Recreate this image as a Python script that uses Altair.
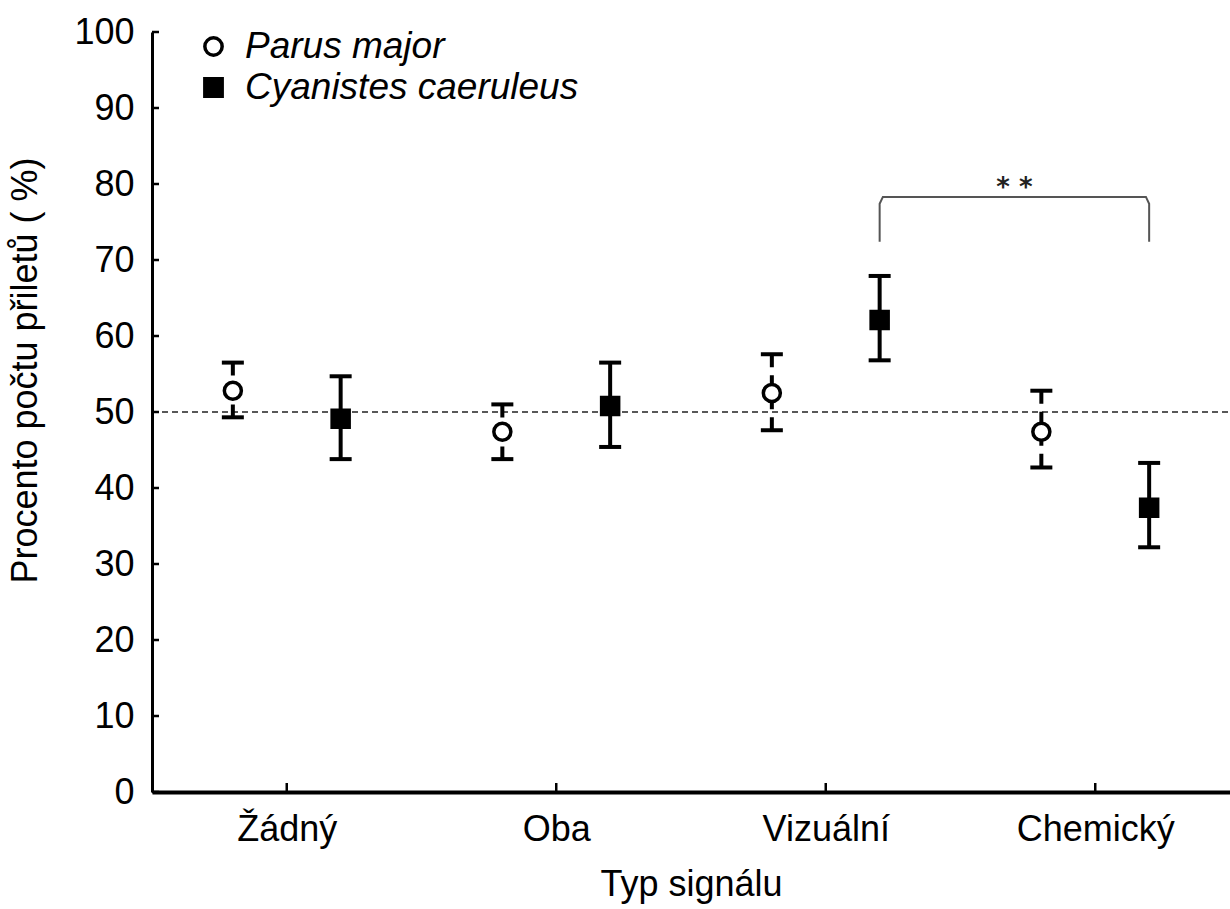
import altair as alt
import pandas as pd

categories = ["Žádný", "Oba", "Vizuální", "Chemický"]
series_names = ["Parus major", "Cyanistes caeruleus"]
series_offset = [-0.2, 0.2]

parus_mean = [52.8, 47.4, 52.5, 47.4]
parus_low = [49.3, 43.8, 47.6, 42.7]
parus_high = [56.5, 51.0, 57.6, 52.8]

cyan_mean = [49.1, 50.8, 62.1, 37.4]
cyan_low = [43.8, 45.4, 56.8, 32.2]
cyan_high = [54.7, 56.5, 67.9, 43.3]

y_ticks = [0, 10, 20, 30, 40, 50, 60, 70, 80, 90, 100]
reference_value = 50
bracket_from = "Vizuální"
bracket_to = "Chemický"
bracket_low = 72.4
bracket_high = 78.3
bracket_label = "* *"
bracket_label_y = 78.4

rows = []
for s_i, (name, means, lows, highs) in enumerate(
    [(series_names[0], parus_mean, parus_low, parus_high),
     (series_names[1], cyan_mean, cyan_low, cyan_high)]):
    for c_i, cat in enumerate(categories):
        rows.append({"series": name, "cat": cat, "pos": c_i + series_offset[s_i],
                     "mean": means[c_i], "low": lows[c_i], "high": highs[c_i]})
df = pd.DataFrame(rows)
parus_df = df[df.series == series_names[0]]
cyan_df = df[df.series == series_names[1]]

b0 = categories.index(bracket_from) + series_offset[1]
b1 = categories.index(bracket_to) + series_offset[1]
corner_dx = 0.012
corner_dy = 0.9
bracket_df = pd.DataFrame({
    "pos": [b0, b0, b0 + corner_dx, b1 - corner_dx, b1, b1],
    "y": [bracket_low, bracket_high - corner_dy, bracket_high, bracket_high,
          bracket_high - corner_dy, bracket_low],
    "order": [0, 1, 2, 3, 4, 5],
})
star_df = pd.DataFrame({"pos": [(b0 + b1) / 2], "y": [bracket_label_y], "t": [bracket_label]})

label_expr = "[" + ",".join("'" + c + "'" for c in categories) + "][datum.value]"

xscale = alt.Scale(domain=[-0.5, 3.5], nice=False, zero=False)
yscale = alt.Scale(domain=[0, 100], nice=False)

FONT = "Liberation Sans"

x_enc = alt.X("pos:Q", scale=xscale,
              axis=alt.Axis(values=list(range(len(categories))), labelExpr=label_expr,
                            title="Typ signálu", grid=False, ticks=False,
                            domainColor="black", domainWidth=4,
                            labelFont=FONT, labelFontSize=36, labelColor="black",
                            labelPadding=20, titleFont=FONT, titleFontSize=36,
                            titleFontWeight="normal", titleColor="black", titlePadding=20))
y_axis = alt.Axis(values=y_ticks, title="Procento počtu přiletů ( %)", grid=False, ticks=False,
                  domainColor="black", domainWidth=3,
                  labelFont=FONT, labelFontSize=36, labelColor="black", labelPadding=18,
                  titleFont=FONT, titleFontSize=36, titleFontWeight="normal",
                  titleColor="black", titleX=-108, titleY=338)

base = alt.Chart(df)

ref_line = alt.Chart(pd.DataFrame({"y": [reference_value]})).mark_rule(
    color="#222", strokeWidth=1.5, strokeDash=[6, 4]).encode(
    y=alt.Y("y:Q", scale=yscale, axis=y_axis), x=alt.value(0), x2=alt.value(1078))

parus_rule = alt.Chart(parus_df).mark_rule(color="black", strokeWidth=4, strokeDash=[13, 8]).encode(
    x=x_enc, y=alt.Y("high:Q", scale=yscale), y2="low:Q")
cyan_rule = alt.Chart(cyan_df).mark_rule(color="black", strokeWidth=4).encode(
    x="pos:Q", y=alt.Y("high:Q", scale=yscale), y2="low:Q")

cap_hi = base.mark_tick(color="black", thickness=4, size=22, orient="horizontal",
                        opacity=1).encode(
    x="pos:Q", y=alt.Y("high:Q", scale=yscale))
cap_lo = base.mark_tick(color="black", thickness=4, size=22, orient="horizontal",
                        opacity=1).encode(
    x="pos:Q", y=alt.Y("low:Q", scale=yscale))

points = base.mark_point(strokeWidth=3.5, opacity=1, fillOpacity=1, size=290).encode(
    x="pos:Q",
    y=alt.Y("mean:Q", scale=yscale),
    shape=alt.Shape("series:N", scale=alt.Scale(domain=series_names, range=["circle", "square"]),
                    title=None),
    fill=alt.Fill("series:N", scale=alt.Scale(domain=series_names, range=["white", "black"]),
                  title=None),
    stroke=alt.Stroke("series:N", scale=alt.Scale(domain=series_names, range=["black", "black"]),
                      title=None),
)

bracket = alt.Chart(bracket_df).mark_line(color="#555", strokeWidth=2).encode(
    x="pos:Q", y=alt.Y("y:Q", scale=yscale), order="order:Q")

stars = alt.Chart(star_df).mark_text(font="DejaVu Sans", fontSize=26, baseline="alphabetic",
                                     fontWeight="bold", color="#222").encode(
    x="pos:Q", y=alt.Y("y:Q", scale=yscale), text="t:N")

ytick_df = pd.DataFrame({"y": y_ticks})
yticks = alt.Chart(ytick_df).mark_rule(color="black", strokeWidth=2.5).encode(
    y=alt.Y("y:Q", scale=yscale), x=alt.value(0), x2=alt.value(7))
xtick_df = pd.DataFrame({"pos": list(range(len(categories)))})
xticks = alt.Chart(xtick_df).mark_rule(color="black", strokeWidth=2.5).encode(
    x="pos:Q", y=alt.value(760), y2=alt.value(751))

chart = alt.layer(ref_line, parus_rule, cyan_rule, cap_hi, cap_lo, bracket, stars,
                  yticks, xticks, points).properties(
    width=1078, height=760,
    autosize=alt.AutoSizeParams(type="none"),
    padding={"left": 152, "top": 32, "right": 0, "bottom": 117},
    background="white",
).configure_view(stroke=None).configure_legend(
    orient="none", legendX=43, legendY=-4, padding=0, labelFont=FONT, labelFontSize=37,
    labelFontStyle="italic", labelColor="black", labelLimit=0, symbolSize=300,
    symbolStrokeWidth=3.5, rowPadding=3, labelOffset=13
)

chart.save("out.html", embed_options={"renderer": "svg", "actions": False})
